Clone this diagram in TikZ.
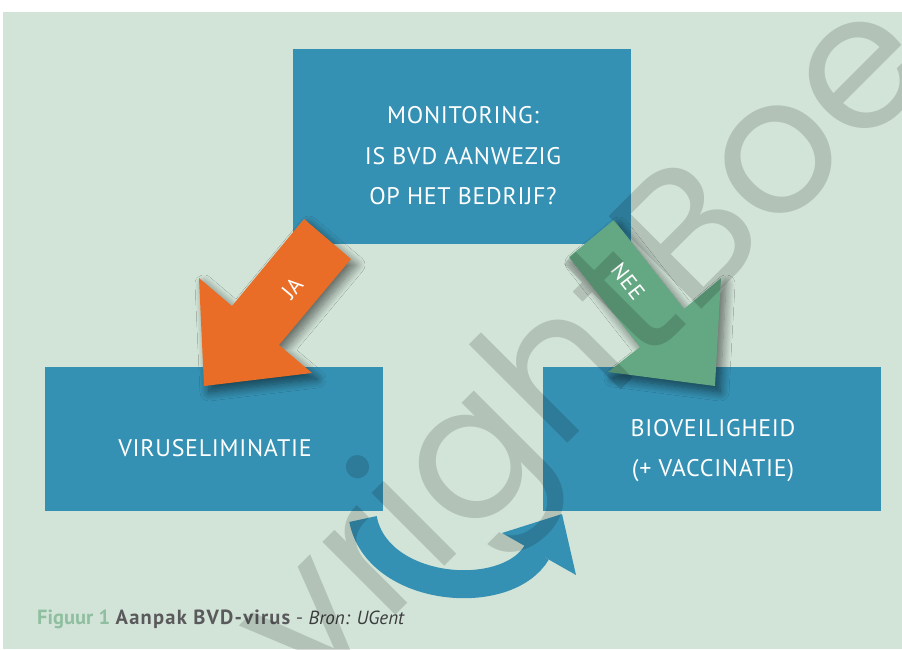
\documentclass[tikz,border=0pt]{standalone}
\usepackage{fontspec}
\setmainfont{PT Sans}
\newfontfamily\boxfont{PT Sans}[LetterSpace=3]
\newfontfamily\capboldfont{PT Sans}[LetterSpace=6]
\newfontfamily\wmfont{Poppins}
\usetikzlibrary{shadows.blur}
\definecolor{bg}{HTML}{D2E4D8}
\definecolor{boxblue}{HTML}{3591B3}
\definecolor{jaorange}{HTML}{E96D26}
\definecolor{neegreen}{HTML}{64A883}
\definecolor{capgreen}{HTML}{8FBFA0}
\definecolor{capgrey}{HTML}{5A5A5C}
\definecolor{capdark}{HTML}{3C3C3E}
\begin{document}
\begin{tikzpicture}[x=1pt,y=-1pt,
  panel/.style={fill=boxblue, draw=none, inner sep=0pt, anchor=north west},
  boxtext/.style={text=white, font=\boxfont\fontsize{24}{28}\selectfont, inner sep=0pt, anchor=base},
  arrowtext/.style={text=white, font=\boxfont\fontsize{22}{24}\selectfont, inner sep=0pt},
  blockshadow/.style={blur shadow={shadow xshift=5pt, shadow yshift=-6pt, shadow blur steps=12, shadow opacity=55, shadow blur radius=9pt}},
  wm/.style={font=\wmfont\fontsize{188}{188}\selectfont, text=black, text opacity=0.15, inner sep=0pt}]
\useasboundingbox (0,0) rectangle (902,649);
\clip (0,0) rectangle (902,649);
\fill[white] (0,0) rectangle (902,649);
\fill[bg] (3,12) rectangle (902,649);
% boxes
\node[panel, minimum width=338, minimum height=195] (mon) at (293,49) {};
\node[panel, minimum width=338, minimum height=144] (vir) at (45,367) {};
\node[panel, minimum width=338, minimum height=144] (bio) at (543,367) {};
% texts
\node[boxtext] (mon1) at (463,123) {MONITORING:};
\node[boxtext] (mon2) at (463,164) {IS BVD AANWEZIG};
\node[boxtext] (mon3) at (463,204) {OP HET BEDRIJF?};
\node[boxtext] (vir1) at (215,456) {VIRUSELIMINATIE};
\node[boxtext] (bio1) at (713,436) {BIOVEILIGHEID};
\node[boxtext] (bio2) at (713,476) {(+ VACCINATIE)};
% block arrows
\fill[jaorange, blockshadow] (304,219) -- (351,259) -- (279,345) -- (312,373) -- (204,386) -- (199,278) -- (232,306) -- cycle;
\fill[neegreen, blockshadow] (569,257) -- (614,220) -- (684,309) -- (721,278) -- (715,386) -- (608,372) -- (640,347) -- cycle;
\node[arrowtext, rotate=50] (ja) at (292,288) {JA};
\node[arrowtext, rotate=-52] (nee) at (628,281) {NEE};
% circular arrow
\draw[boxblue, line width=28] (363,519) .. controls (377,593) and (507,604) .. (537,552);
\fill[boxblue] (562,514) -- (502,533) -- (576,575) -- cycle;
% caption
\node[inner sep=0pt, anchor=base west, font=\fontsize{20.5}{24}\selectfont] (cap) at (37,624)
  {\textbf{\color{capgreen}Figuur 1} {\capboldfont\bfseries\color{capgrey}Aanpak BVD-virus} {\color{capgrey}-} {\fontsize{19}{24}\selectfont\color{capdark}\itshape Bron: UGent}};
% watermark
\coordinate (wmjoin) at (691,320);
\node[wm, rotate=45, anchor=base east] (wm1) at (wmjoin) {copyright};
\node[wm, rotate=45, anchor=base west] (wm2) at (wmjoin) {Boe};
\end{tikzpicture}
\end{document}
